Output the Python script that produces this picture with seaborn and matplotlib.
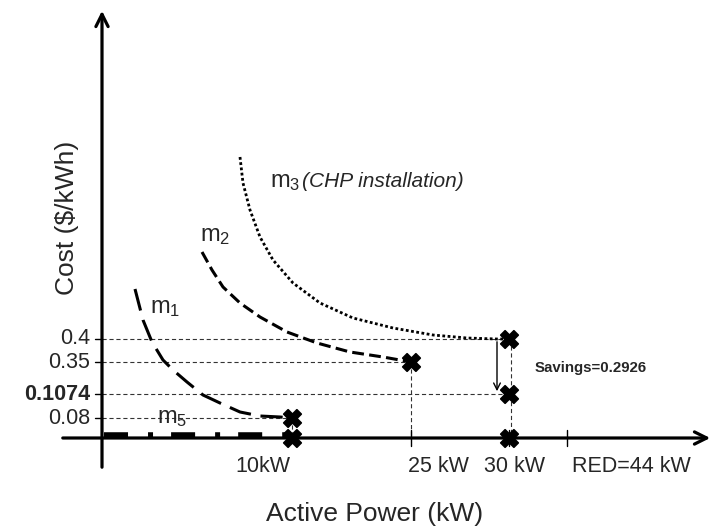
import matplotlib
matplotlib.use("Agg")
import matplotlib.pyplot as plt
import seaborn as sns
import pandas as pd

sns.set_theme(style="white")
plt.rcParams["font.family"] = ["Liberation Sans", "DejaVu Sans"]
plt.rcParams["mathtext.fontset"] = "custom"
plt.rcParams["mathtext.rm"] = "Liberation Sans"
plt.rcParams["mathtext.it"] = "Liberation Sans:italic"
plt.rcParams["lines.scale_dashes"] = False

# ---- schematic data (schematic units: origin at the axes crossing) ----
power_tick_labels = ["10kW", "25 kW", "30 kW", "RED=44 kW"]
power_tick_pos = [190, 309, 407, 465]
cost_tick_labels = ["0.4", "0.35", "0.1074", "0.08"]
cost_tick_pos = [99, 76, 44, 20]

m1_x = [33, 41, 50, 61, 71, 85, 101, 118, 138, 158, 178, 190]
m1_y = [149, 118, 96, 78, 68, 56, 43, 35, 26, 22, 21, 20]
m2_x = [100, 110, 121, 138, 158, 185, 215, 248, 281, 309]
m2_y = [186, 168, 151, 135, 121, 106, 95, 86, 81, 76]
m3_x = [138, 141, 148, 158, 171, 191, 218, 251, 291, 331, 365, 395, 407]
m3_y = [281, 255, 228, 201, 178, 155, 135, 120, 110, 103, 100, 99, 99]
m5_x = [2, 190]
m5_y = [3, 3]

cross_x = [190, 190, 309, 407, 407, 407]
cross_y = [20, 0, 76, 99, 44, 0]

savings_x = 395
savings_from = 99
savings_to = 44

fig = plt.figure(figsize=(7.14, 5.28), dpi=100)
ax = fig.add_axes([0, 0, 1, 1])
ax.set_xlim(-102, 612)
ax.set_ylim(-90, 438)
ax.axis("off")

# guide lines (dashed)
guide = dict(color="#333333", lw=0.8, ls=(0, (3, 2)), zorder=1)
guide_ends = [407, 309, 400, 190]
for yv, xe in zip(cost_tick_pos, guide_ends):
    ax.plot([0, xe], [yv, yv], **guide)
ax.plot([190, 190], [20, 0], **guide)
ax.plot([309, 309], [76, 0], **guide)
ax.plot([409, 409], [99, 0], **guide)

# curves
df1 = pd.DataFrame({"x": m1_x, "y": m1_y})
df2 = pd.DataFrame({"x": m2_x, "y": m2_y})
df3 = pd.DataFrame({"x": m3_x, "y": m3_y})
df5 = pd.DataFrame({"x": m5_x, "y": m5_y})
sns.lineplot(data=df1, x="x", y="y", sort=False, ax=ax, color="black", lw=2.2)
ax.lines[-1].set_dashes((16, 7))
sns.lineplot(data=df2, x="x", y="y", sort=False, ax=ax, color="black", lw=2.2)
ax.lines[-1].set_dashes((8.5, 3.8))
sns.lineplot(data=df3, x="x", y="y", sort=False, ax=ax, color="black", lw=2.0)
ax.lines[-1].set_dashes((2.0, 1.8))
sns.lineplot(data=df5, x="x", y="y", sort=False, ax=ax, color="black", lw=4.0)
ax.lines[-1].set_dashes((17.3, 14.4, 3.6, 13))
for ln in ax.lines[-4:]:
    ln.set_dash_capstyle("butt")

# axes arrows
ax.annotate("", xy=(0, 430), xytext=(0, -32),
            arrowprops=dict(arrowstyle="->", lw=2.3, color="black", mutation_scale=22))
ax.annotate("", xy=(611, 0), xytext=(-42, 0),
            arrowprops=dict(arrowstyle="->", lw=2.3, color="black", mutation_scale=22))

# ticks
for yv in cost_tick_pos:
    ax.plot([-7, 0], [yv, yv], color="black", lw=1)
for xv in power_tick_pos[1:]:
    ax.plot([xv, xv], [-8, 8], color="black", lw=1)

# tick labels
for lab, yv in zip(cost_tick_labels, cost_tick_pos):
    ax.text(-12, yv, lab, ha="right", va="center", fontsize=15.5,
            fontweight="bold" if lab == "0.1074" else "normal")
x_label_centers = [161, 336, 413, 529]
for lab, xc in zip(power_tick_labels, x_label_centers):
    ax.text(xc, -29, lab, ha="center", va="center", fontsize=15.5)

# savings arrow
ax.annotate("", xy=(savings_x, savings_to), xytext=(savings_x, savings_from),
            arrowprops=dict(arrowstyle="->", lw=1.0, color="black", mutation_scale=12))
ax.text(433, 70, "Savings=0.2926", fontsize=10.8, fontweight="bold", va="center")

# crosses
sns.scatterplot(x=cross_x, y=cross_y, marker="X", s=160, color="black",
                edgecolor="black", linewidth=1.2, ax=ax, zorder=5)

# curve labels
ax.text(48, 125, r"m$_\mathrm{1}$", fontsize=17, va="baseline")
ax.text(98, 197, r"m$_\mathrm{2}$", fontsize=17, va="baseline")
ax.text(168, 251, r"m$_\mathrm{3}$", fontsize=17, va="baseline")
ax.text(200, 251, "(CHP installation)", fontsize=15, style="italic", va="baseline")
ax.text(55, 15, r"m$_\mathrm{5}$", fontsize=17, va="baseline")

# axis titles
ax.text(273, -76, "Active Power (kW)", fontsize=19, ha="center", va="center")
ax.text(-35, 220, "Cost ($/kWh)", fontsize=19, ha="center", va="center", rotation=90)

fig.savefig("out.png", dpi=100)
